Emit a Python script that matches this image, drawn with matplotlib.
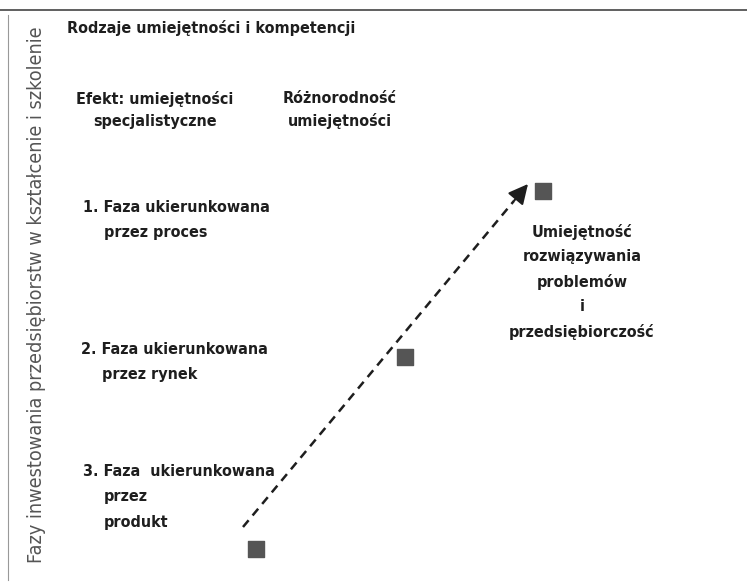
import matplotlib
matplotlib.use("Agg")
import matplotlib.pyplot as plt

# condensed sans, close to the scanned type
plt.rcParams['font.family'] = ['DejaVu Sans']
plt.rcParams['font.stretch'] = 'condensed'

# data: skill points (x, y in diagram units)
point_x = [256, 405, 543]
point_y = [549, 357, 191]
arrow_start = (243, 527)
arrow_end = (528, 184)

title = "Rodzaje umiejętności i kompetencji"
y_label = "Fazy inwestowania przedsiębiorstw w kształcenie i szkolenie"
col_labels = ["Efekt: umiejętności\nspecjalistyczne", "Różnorodność\numiejętności"]
phase_lines = [
    ["1. Faza ukierunkowana", "przez proces"],
    ["2. Faza ukierunkowana", "przez rynek"],
    ["3. Faza  ukierunkowana", "przez", "produkt"],
]
result_label = "Umiejętność\nrozwiązywania\nproblemów\ni\nprzedsiębiorczość"

fig = plt.figure(figsize=(7.47, 5.83), dpi=100)
ax = fig.add_axes([0, 0, 1, 1])
ax.set_xlim(0, 747)
ax.set_ylim(583, 0)
ax.axis("off")

txt = dict(color="#1e1e1e", fontsize=11.5, fontweight="bold", fontstretch="condensed")

# frame lines
ax.plot([0, 747], [10, 10], color="#444444", lw=1.2)
ax.plot([8, 8], [15, 580], color="#999999", lw=0.8)

ax.text(37, 295, y_label, rotation=90, ha="center", va="center",
        color="#555555", fontsize=14.2, fontstretch="condensed")
ax.text(67, 28, title, ha="left", va="center", **txt)
ax.text(155, 110, col_labels[0], ha="center", va="center", linespacing=1.55, **txt)
ax.text(340, 110, col_labels[1], ha="center", va="center", linespacing=1.55, **txt)

phase_pos = [(83, 208), (81, 349), (83, 472)]
for (px, py), lines in zip(phase_pos, phase_lines):
    ax.text(px, py, lines[0], ha="left", va="center", **txt)
    for i, ln in enumerate(lines[1:]):
        ax.text(px + 21, py + 25 * (i + 1), ln, ha="left", va="center", **txt)

ax.text(582, 282, result_label, ha="center", va="center", linespacing=1.75, **txt)

# dashed shaft, then solid head on the last bit
frac = 0.95
mid = (arrow_start[0] + frac * (arrow_end[0] - arrow_start[0]),
       arrow_start[1] + frac * (arrow_end[1] - arrow_start[1]))
ax.plot([arrow_start[0], mid[0]], [arrow_start[1], mid[1]],
        linestyle=(0, (3.5, 2.5)), color="#1e1e1e", lw=1.8)
ax.annotate("", xy=arrow_end, xytext=mid,
            arrowprops=dict(arrowstyle="-|>,head_length=0.8,head_width=0.4",
                            color="#1e1e1e", lw=1.5, mutation_scale=15,
                            shrinkA=0, shrinkB=0))

ax.scatter(point_x, point_y, marker="s", s=120, color="#555555", zorder=3)

fig.savefig("out.png", dpi=100)
